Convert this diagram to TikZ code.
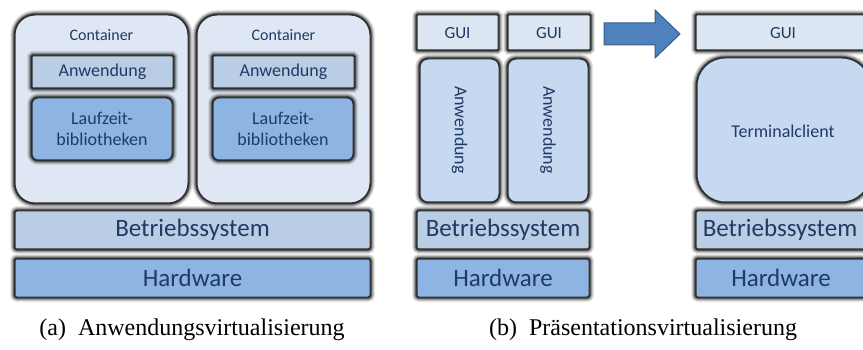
\documentclass[tikz,border=0pt]{standalone}
\usepackage{fontspec}
\newfontfamily\calfont{Carlito}
\newfontfamily\capfont{Liberation Serif}
\definecolor{txt}{HTML}{1F3B63}
\definecolor{cont}{HTML}{DFE7F4}
\definecolor{lite}{HTML}{B9CDE5}
\definecolor{mid}{HTML}{8EB4E3}
\definecolor{gui}{HTML}{DCE6F2}
\definecolor{app}{HTML}{C6D9F1}
\definecolor{edge}{HTML}{2E2E2E}
\definecolor{arrf}{HTML}{4F81BD}
\definecolor{arrd}{HTML}{385D8A}
\begin{document}
\begin{tikzpicture}[x=1pt,y=-1pt,
  layer/.style={draw=edge,line width=1pt,
    preaction={draw=black,line width=10pt,draw opacity=0.08},
    preaction={draw=black,line width=8pt,draw opacity=0.14},
    preaction={draw=black,line width=6pt,draw opacity=0.22},
    preaction={draw=black,line width=4pt,draw opacity=0.35},
    preaction={draw=black,line width=2.5pt,draw opacity=0.5},
    text=txt,font=\calfont},
  lbl/.style={text=txt,font=\calfont,inner sep=0pt,align=center}]
\useasboundingbox (0,0) rectangle (863,350);
% (a)
\path[layer,fill=cont,rounded corners=20pt] (15,15) rectangle (188,203);
\path[layer,fill=cont,rounded corners=20pt] (197,15) rectangle (370,203);
\node[lbl,font=\calfont\fontsize{16}{18}\selectfont] (c1) at (101.5,35) {Container};
\node[lbl,font=\calfont\fontsize{16}{18}\selectfont] (c2) at (283.5,35) {Container};
\path[layer,fill=lite,rounded corners=1pt] (32,56) rectangle (173,88);
\path[layer,fill=lite,rounded corners=1pt] (213,56) rectangle (354,88);
\node[lbl,font=\calfont\fontsize{18}{20}\selectfont] (a1) at (102.5,72) {Anwendung};
\node[lbl,font=\calfont\fontsize{18}{20}\selectfont] (a2) at (283.5,72) {Anwendung};
\path[layer,fill=mid,rounded corners=6pt] (32,98) rectangle (172,160);
\path[layer,fill=mid,rounded corners=6pt] (213,98) rectangle (353,160);
\node[lbl,font=\calfont\fontsize{18}{21}\selectfont] (l1) at (102,129) {Laufzeit-\\bibliotheken};
\node[lbl,font=\calfont\fontsize{18}{21}\selectfont] (l2) at (283,129) {Laufzeit-\\bibliotheken};
\path[layer,fill=lite,rounded corners=2pt] (15,211) rectangle (370,249);
\node[lbl,font=\calfont\fontsize{25}{28}\selectfont] (bs1) at (192.5,230) {Betriebssystem};
\path[layer,fill=mid,rounded corners=2pt] (15,259) rectangle (370,297);
\node[lbl,font=\calfont\fontsize{25}{28}\selectfont] (hw1) at (192.5,278) {Hardware};
\node[font=\capfont\fontsize{24}{28}\selectfont,inner sep=0pt] (capa) at (192,330) {(a)\ \ Anwendungsvirtualisierung};
% (b) left
\path[layer,fill=gui,rounded corners=1pt] (417,15) rectangle (498,50);
\path[layer,fill=gui,rounded corners=1pt] (508,15) rectangle (590,50);
\node[lbl,font=\calfont\fontsize{17}{20}\selectfont] (g1) at (457.5,33) {GUI};
\node[lbl,font=\calfont\fontsize{17}{20}\selectfont] (g2) at (549,33) {GUI};
\path[layer,fill=app,rounded corners=8pt] (420,59) rectangle (499,202);
\path[layer,fill=app,rounded corners=8pt] (508,59) rectangle (588,202);
\node[lbl,font=\calfont\fontsize{18}{20}\selectfont,rotate=-90] (ap1) at (459.5,130) {Anwendung};
\node[lbl,font=\calfont\fontsize{18}{20}\selectfont,rotate=-90] (ap2) at (548,130) {Anwendung};
\path[layer,fill=lite,rounded corners=2pt] (417,211) rectangle (589,249);
\node[lbl,font=\calfont\fontsize{25}{28}\selectfont] (bs2) at (503,230) {Betriebssystem};
\path[layer,fill=mid,rounded corners=2pt] (417,259) rectangle (589,297);
\node[lbl,font=\calfont\fontsize{25}{28}\selectfont] (hw2) at (503,278) {Hardware};
% arrow
\draw[draw=arrd,fill=arrf,line width=1pt,line join=miter]
  (604,23) -- (655,23) -- (655,10) -- (680,34) -- (655,58) -- (655,45) -- (604,45) -- cycle;
% (b) right
\path[layer,fill=gui,rounded corners=1pt] (696,15) rectangle (870,50);
\node[lbl,font=\calfont\fontsize{17}{20}\selectfont] (g3) at (783,33) {GUI};
\path[layer,fill=app,rounded corners=28pt] (697,58) rectangle (870,202);
\node[lbl,font=\calfont\fontsize{18}{20}\selectfont] (tc) at (783,131) {Terminalclient};
\path[layer,fill=lite,rounded corners=2pt] (696,211) rectangle (866,249);
\node[lbl,font=\calfont\fontsize{25}{28}\selectfont] (bs3) at (780,230) {Betriebssystem};
\path[layer,fill=mid,rounded corners=2pt] (696,259) rectangle (866,297);
\node[lbl,font=\calfont\fontsize{25}{28}\selectfont] (hw3) at (781,278) {Hardware};
\node[font=\capfont\fontsize{24}{28}\selectfont,inner sep=0pt] (capb) at (643,330) {(b)\ \ Präsentationsvirtualisierung};
\end{tikzpicture}
\end{document}
